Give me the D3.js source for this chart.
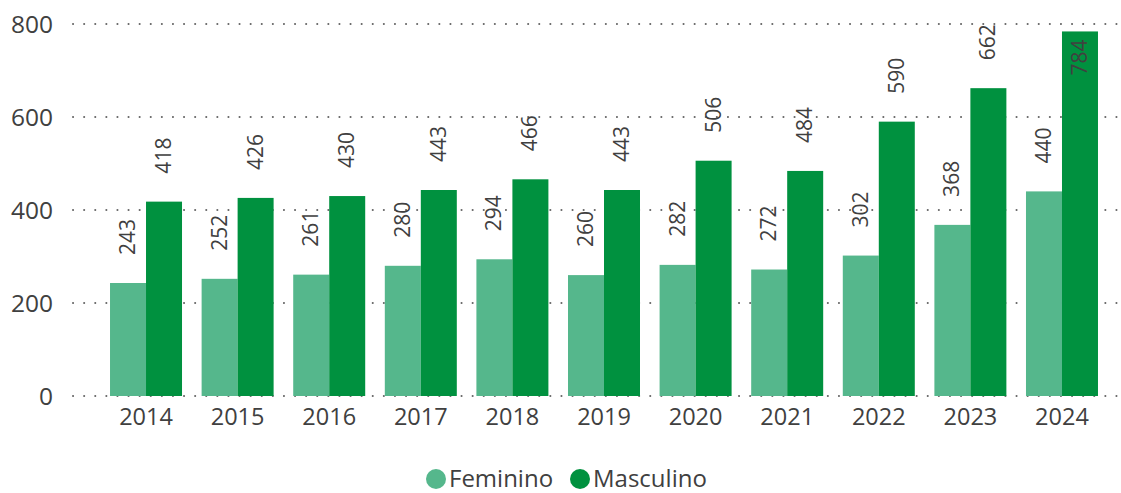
<!DOCTYPE html>
<html>
<head>
<meta charset="utf-8">
<script src="https://cdn.jsdelivr.net/npm/d3@7"></script>
<style>
  body { margin: 0; background: #fff; }
  text { font-family: "Open Sans", "Noto Sans", sans-serif; fill: #404040; }
</style>
</head>
<body>
<div id="chart"></div>
<script>
const years = ['2014', '2015', '2016', '2017', '2018', '2019', '2020', '2021', '2022', '2023', '2024'];
const seriesNames = ['Feminino', 'Masculino'];
const feminino = [243, 252, 261, 280, 294, 260, 282, 272, 302, 368, 440];
const masculino = [418, 426, 430, 443, 466, 443, 506, 484, 590, 662, 784];
const yTicks = [0, 200, 400, 600, 800];
const colors = ['#55b78c', '#00913f'];

const width = 1121;
const height = 493;
const gridLeft = 73;
const gridRight = 1117;

const svg = d3.select('#chart').append('svg')
    .attr('width', width)
    .attr('height', height);

const scaleY = d3.scaleLinear()
    .domain([0, 800])
    .range([396, 24]);

const scaleX = d3.scaleBand()
    .domain(years)
    .range([91.7, 1116.3])
    .paddingInner(0.214)
    .paddingOuter(0.2);

const scaleSeries = d3.scaleBand()
    .domain(seriesNames)
    .range([0, scaleX.bandwidth()]);

// dotted grid
svg.append('g')
    .selectAll('line')
    .data(yTicks)
    .enter()
    .append('line')
    .attr('x1', gridLeft)
    .attr('x2', gridRight)
    .attr('y1', d => scaleY(d))
    .attr('y2', d => scaleY(d))
    .attr('stroke', '#666')
    .attr('stroke-width', 2)
    .attr('stroke-linecap', 'round')
    .attr('stroke-dasharray', '0.1 11');

// y axis
const yAxis = svg.append('g')
    .attr('transform', 'translate(53, 0)')
    .call(d3.axisLeft(scaleY).tickValues(yTicks).tickSize(0).tickPadding(0));
yAxis.select('.domain').remove();
yAxis.selectAll('text')
    .style('font-size', '24.5px')
    .attr('fill', '#404040')
    .attr('dy', '0.34em');

// x axis
const xAxis = svg.append('g')
    .attr('transform', 'translate(0, 396)')
    .call(d3.axisBottom(scaleX).tickSize(0).tickPadding(12));
xAxis.select('.domain').remove();
xAxis.selectAll('text')
    .style('font-size', '23.5px')
    .attr('fill', '#404040');

const rows = years.map((y, i) => ({ year: y, values: [feminino[i], masculino[i]] }));

const groups = svg.append('g')
    .selectAll('g')
    .data(rows)
    .enter()
    .append('g')
    .attr('transform', d => `translate(${scaleX(d.year)}, 0)`);

groups.selectAll('rect')
    .data(d => d.values.map((v, k) => ({ name: seriesNames[k], value: v, k })))
    .enter()
    .append('rect')
    .attr('x', d => scaleSeries(d.name))
    .attr('y', d => scaleY(d.value))
    .attr('width', scaleSeries.bandwidth())
    .attr('height', d => scaleY(0) - scaleY(d.value))
    .attr('fill', d => colors[d.k]);

// data labels, rotated, outside end unless they would leave the plot
groups.selectAll('text.label')
    .data(d => d.values.map((v, k) => ({ name: seriesNames[k], value: v, k })))
    .enter()
    .append('text')
    .attr('class', 'label')
    .style('font-size', '21px')
    .attr('fill', '#404040')
    .attr('transform', d => {
        const cx = scaleSeries(d.name) + scaleSeries.bandwidth() / 2;
        const top = scaleY(d.value);
        const inside = top - 28 - 36 < 22;
        const y = inside ? top + 8 : top - 28;
        return `translate(${cx + 7}, ${y}) rotate(-90)`;
    })
    .attr('text-anchor', d => (scaleY(d.value) - 64 < 22 ? 'end' : 'start'))
    .text(d => d.value);

// legend
const legend = svg.append('g')
    .attr('transform', 'translate(436, 479)');
const legendX = [0, 144];
seriesNames.forEach((name, k) => {
    const item = legend.append('g').attr('transform', `translate(${legendX[k]}, 0)`);
    item.append('circle')
        .attr('r', 10)
        .attr('fill', colors[k]);
    item.append('text')
        .attr('x', 13)
        .attr('y', 8)
        .style('font-size', '24px')
        .attr('fill', '#404040')
        .text(name);
});
</script>
</body>
</html>
